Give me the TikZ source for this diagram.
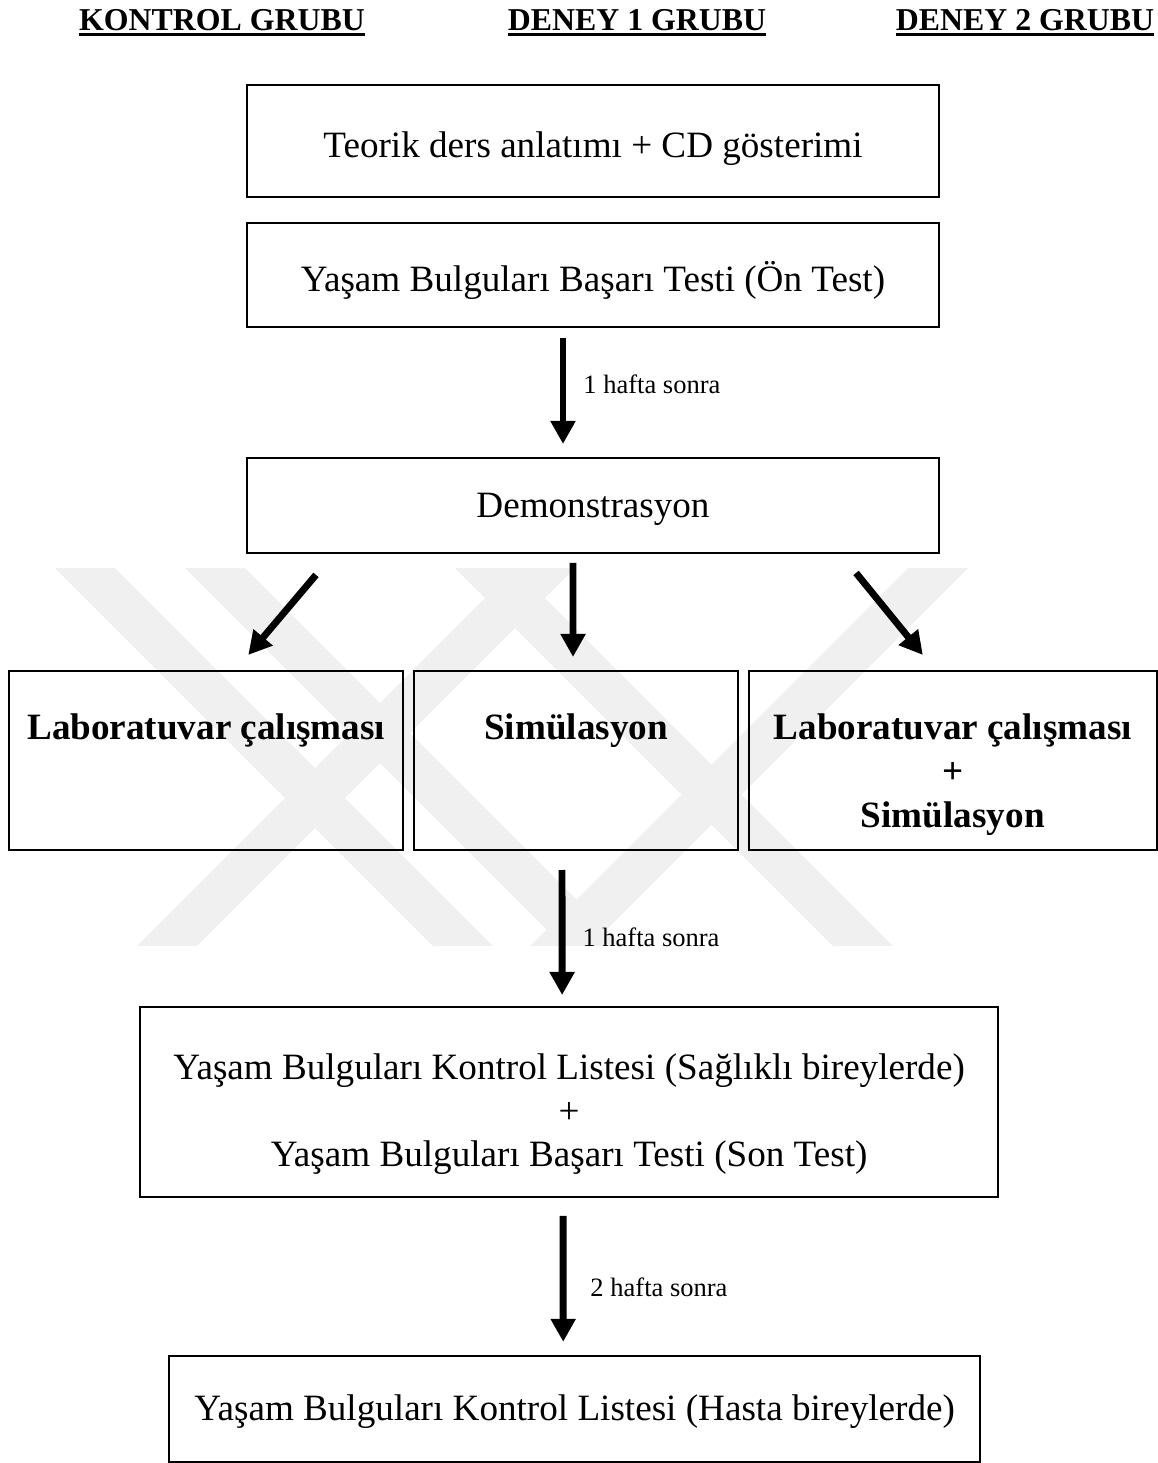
\documentclass[tikz,border=0pt]{standalone}
\usepackage{fontspec}
\setmainfont{Liberation Serif}
\usetikzlibrary{positioning, arrows.meta, calc}
\newcommand{\grpul}[1]{\setbox0\hbox{#1}\rlap{\rule[-2.2pt]{\wd0}{0.9pt}}\box0}

\begin{document}
\begin{tikzpicture}[x=0.377pt, y=-0.377pt,
        box/.style={rectangle, draw=black, line width=0.8pt, inner sep=0pt, outer sep=0pt,
                    minimum width=260.9pt, font=\fontsize{14}{16.4}\selectfont},
        gbox/.style={rectangle, draw=black, line width=0.8pt, inner sep=0pt, outer sep=0pt,
                     text height=26pt, text depth=41.5pt, font=\bfseries\fontsize{14}{16.6}\selectfont},
        head/.style={inner sep=0pt, anchor=base, font=\bfseries\fontsize{12}{14.4}\selectfont},
        arrow/.style={-{Triangle[width=9pt, length=8.7pt]}, line width=2.6pt},
        note/.style={inner sep=0pt, font=\fontsize{10}{12}\selectfont},
        wm/.style={fill=black!6}
    ]
    \useasboundingbox (0,0) rectangle (1157,1463);

    % watermark
    \begin{scope}
        \clip (0,568) rectangle (1157,945);
        \foreach \xs in {55,185,455}
            \fill[wm] (\xs,568) -- ++(60,0) -- ++(400,400) -- ++(-60,0) -- cycle;
        \foreach \xs in {515,908}
            \fill[wm] (\xs,568) -- ++(60,0) -- ++(-400,400) -- ++(-60,0) -- cycle;
    \end{scope}

    % group titles
    \node[head] (hkontrol) at (222,30) {\grpul{KONTROL GRUBU}};
    \node[head] (hdeney1) at (637,30) {\grpul{DENEY 1 GRUBU}};
    \node[head] (hdeney2) at (1025,30) {\grpul{DENEY 2 GRUBU}};

    \node[box, anchor=north, text height=27.5pt, text depth=14.7pt] (teorik) at (593,85)
        {Teorik ders anlatımı + CD gösterimi};
    \node[box, below=9.8pt of teorik, text height=26pt, text depth=13.2pt] (ontest)
        {Yaşam Bulguları Başarı Testi (Ön Test)};
    \node[box, below=49.4pt of ontest, minimum height=35.8pt, text depth=0pt] (demo) {Demonstrasyon};

    \node[gbox, below=44.5pt of demo, xshift=-6.4pt, minimum width=122.1pt] (sim) {Simülasyon};
    \node[gbox, left=4.1pt of sim, minimum width=148.5pt] (lab) {Laboratuvar çalışması};
    \node[gbox, right=4.1pt of sim, minimum width=153.8pt] (labsim)
        {\begin{tabular}[t]{@{}c@{}}Laboratuvar çalışması\\+\\Simülasyon\end{tabular}};

    \node[box, below=59.2pt of sim, xshift=-2.6pt, minimum width=323.5pt,
          text height=27.5pt, text depth=44.1pt] (post)
        {\begin{tabular}[t]{@{}c@{}}Yaşam Bulguları Kontrol Listesi (Sağlıklı bireylerde)\\+\\Yaşam Bulguları Başarı Testi (Son Test)\end{tabular}};
    \node[box, below=59.9pt of post, xshift=2.1pt, minimum width=305.7pt,
          text height=24.5pt, text depth=15.5pt] (final)
        {Yaşam Bulguları Kontrol Listesi (Hasta bireylerde)};

    \draw[arrow] ($(ontest.south)+(-30,11)$) -- node[note, right=6.4pt, pos=0.44] (n1) {1 hafta sonra}
        ($(demo.north)+(-30,-14)$);
    \draw[arrow] ($(demo.south west)+(69,22)$) -- ($(lab.north)+(42,-16)$);
    \draw[arrow] ($(demo.south)+(-20,10)$) -- ($(sim.north)+(-3,-14)$);
    \draw[arrow] ($(demo.south east)+(-83,20)$) -- ($(labsim.north)+(-30,-16)$);
    \draw[arrow] ($(sim.south)+(-14,20)$) -- node[note, right=6.4pt, pos=0.54] (n2) {1 hafta sonra}
        ($(post.north)+(-7,-12)$);
    \draw[arrow] ($(post.south)+(-6,19)$) -- node[note, right=9pt, pos=0.57] (n3) {2 hafta sonra}
        ($(final.north)+(-11.5,-14)$);
\end{tikzpicture}
\end{document}
